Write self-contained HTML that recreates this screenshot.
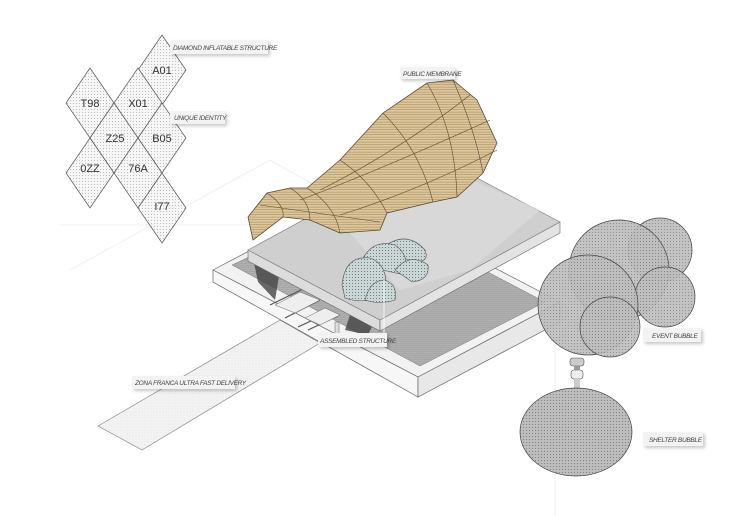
<!DOCTYPE html>
<html><head><meta charset="utf-8"><style>
html,body{margin:0;padding:0;background:#fff;}
svg{display:block;}
.lb{font-family:"Liberation Sans",sans-serif;font-size:6.5px;font-style:italic;fill:#444;letter-spacing:-0.3px;}
.dl{font-family:"Liberation Sans",sans-serif;font-size:11px;fill:#333;}
</style></head><body>
<svg width="730" height="516" viewBox="0 0 730 516" xmlns="http://www.w3.org/2000/svg">
<defs>
<pattern id="dots" width="3" height="3" patternUnits="userSpaceOnUse"><rect width="3" height="3" fill="#f6f6f6"/><circle cx="1.5" cy="1.5" r="0.5" fill="#aaa"/></pattern>
<pattern id="gdots" width="3" height="3" patternUnits="userSpaceOnUse"><rect width="3" height="3" fill="#bdbdbd"/><circle cx="1.5" cy="1.5" r="0.55" fill="#777"/></pattern>
<pattern id="bdots" width="3" height="3" patternUnits="userSpaceOnUse"><rect width="3" height="3" fill="#cbd6d6"/><circle cx="1.5" cy="1.5" r="0.55" fill="#5a6a6a"/></pattern>
<pattern id="tan" width="4" height="2.5" patternUnits="userSpaceOnUse"><rect width="4" height="2.5" fill="#dcc69c"/><rect y="1.8" width="4" height="0.7" fill="#b39868"/></pattern>
<pattern id="dstripe" width="4" height="2" patternUnits="userSpaceOnUse"><rect width="4" height="2" fill="#b0b0b0"/><rect y="1.3" width="4" height="0.7" fill="#a2a2a2"/></pattern>
<pattern id="road" width="3" height="3" patternUnits="userSpaceOnUse"><rect width="3" height="3" fill="#f3f3f3"/><circle cx="1" cy="1" r="0.4" fill="#d0d0d0"/></pattern>
<filter id="sh" x="-20%" y="-50%" width="140%" height="220%"><feDropShadow dx="2" dy="2" stdDeviation="1.5" flood-color="#000" flood-opacity="0.22"/></filter>
</defs>

<g stroke="#ececec" stroke-width="0.8" fill="none">
<polyline points="70,270 270,160 420,245"/>
<line x1="60" y1="225" x2="260" y2="225"/>
<line x1="555" y1="350" x2="555" y2="516"/>
</g>

<polygon points="98,426 280,320 320,343 142,450" fill="url(#road)" stroke="#888" stroke-width="0.7"/>

<polygon points="213,270 355,195 560,302 418,377" fill="#f2f2f2" stroke="#666" stroke-width="0.7"/>
<polygon points="213,270 418,377 418,397 213,282" fill="#f7f7f7" stroke="#666" stroke-width="0.7"/>
<polygon points="418,377 560,302 560,322 418,397" fill="#e8e8e8" stroke="#666" stroke-width="0.7"/>
<polygon points="232,265 360,205 545,302 420,366" fill="url(#dstripe)" stroke="#777" stroke-width="0.5"/>

<polygon points="253,258 280,270 275,300 258,282" fill="#444" opacity="0.8"/>
<polygon points="350,315 375,320 368,335 345,330" fill="#444" opacity="0.8"/>
<g stroke="#555" stroke-width="1.2">
<line x1="270" y1="305" x2="305" y2="288"/><line x1="285" y1="318" x2="320" y2="300"/><line x1="298" y1="327" x2="330" y2="312"/><line x1="308" y1="330" x2="338" y2="316"/>
</g>
<polygon points="275,305 300,292 320,300 295,313" fill="#eee" stroke="#666" stroke-width="0.5"/>
<polygon points="305,318 325,308 340,315 320,325" fill="#eee" stroke="#666" stroke-width="0.5"/>
<rect x="335" y="322" width="4" height="18" fill="#ddd" stroke="#666" stroke-width="0.5"/>

<polygon points="248,250 380,320 380,331 248,261" fill="#dcdcdc" stroke="#666" stroke-width="0.6"/>
<polygon points="380,320 560,222 560,233 380,331" fill="#e3e3e3" stroke="#666" stroke-width="0.6"/>
<polygon points="248,250 428,152 560,222 380,320" fill="#cfcfcf" stroke="#777" stroke-width="0.6"/>
<polygon points="330,210 450,170 540,210 470,270 400,290" fill="#dcdcdc" opacity="0.7"/>

<polygon points="253,240 248,217 267,193 290,188 307,188 340,160 383,113 427,83 453,80 477,100 497,143 483,173 457,197 433,202 387,213 380,230 340,233 310,220 283,217" fill="url(#tan)" stroke="#5a4a30" stroke-width="0.8"/>
<g stroke="#5a4a30" stroke-width="0.6" fill="none">
<path d="M267,193 Q285,205 283,217"/><path d="M290,188 Q310,200 310,220"/><path d="M307,188 Q335,205 340,233"/>
<path d="M340,160 Q370,180 387,213"/><path d="M383,113 Q420,150 433,202"/><path d="M427,83 Q455,130 457,197"/><path d="M453,80 Q475,130 483,173"/>
<path d="M300,200 Q380,170 490,120"/><path d="M320,190 Q400,150 470,95"/><path d="M340,215 Q420,190 497,150"/><path d="M260,205 Q330,215 380,222"/>
</g>

<g fill="url(#bdots)" stroke="#555" stroke-width="0.6">
<path d="M380,250 Q405,228 425,250 Q430,262 415,262 Z"/>
<path d="M360,265 Q370,238 395,245 Q410,255 405,275 Z"/>
<path d="M395,270 Q410,252 428,265 Q430,280 412,282 Z"/>
<path d="M342,285 Q345,255 370,258 Q390,265 385,295 Q365,305 345,298 Z"/>
<path d="M365,300 Q370,280 385,280 Q398,285 395,300 Q380,305 365,300 Z"/>
</g>
<line x1="384" y1="280" x2="384" y2="340" stroke="#fff" stroke-width="0.8"/>

<g fill="url(#gdots)" stroke="#444" stroke-width="0.7" fill-opacity="0.9">
<circle cx="660" cy="250" r="32"/>
<circle cx="619" cy="270" r="50"/>
<circle cx="665" cy="297" r="30"/>
<circle cx="588" cy="305" r="50"/>
<circle cx="610" cy="327" r="30"/>
</g>
<rect x="570" y="358" width="14" height="8" rx="3" fill="#ccc" stroke="#555" stroke-width="0.6"/>
<rect x="571" y="370" width="12" height="9" rx="3" fill="#eee" stroke="#555" stroke-width="0.6"/>
<rect x="574" y="366" width="6" height="4" fill="#999"/>
<rect x="574" y="379" width="6" height="9" fill="#ccc"/>
<ellipse cx="576" cy="432" rx="56" ry="44" fill="url(#gdots)" stroke="#444" stroke-width="0.7"/>

<g fill="url(#dots)" stroke="#555" stroke-width="0.7">
<polygon points="162,35 186,70 162,105 138,70"/>
<polygon points="138,68 162,103 138,138 114,103"/>
<polygon points="90,68 114,103 90,138 66,103"/>
<polygon points="114,103 138,138 114,173 90,138"/>
<polygon points="162,103 186,138 162,173 138,138"/>
<polygon points="90,138 114,173 90,208 66,173"/>
<polygon points="138,138 162,173 138,208 114,173"/>
<polygon points="162,173 186,208 162,243 138,208"/>
</g>
<g class="dl" text-anchor="middle">
<text x="162" y="74">A01</text><text x="138" y="107">X01</text><text x="90" y="107">T98</text>
<text x="115" y="142">Z25</text><text x="162" y="142">B05</text><text x="90" y="172">0ZZ</text>
<text x="138" y="172">76A</text><text x="162" y="210">I77</text>
</g>

<g filter="url(#sh)" fill="#f3f3f3">
<rect x="170" y="40" width="98" height="14"/>
<rect x="170" y="111" width="55" height="13"/>
<rect x="400" y="67" width="55" height="12"/>
<rect x="318" y="333" width="69" height="14"/>
<rect x="132" y="376" width="103" height="13"/>
<rect x="643" y="328" width="58" height="14"/>
<rect x="643" y="432" width="60" height="14"/>
</g>
<g class="lb">
<text x="173" y="50">DIAMOND INFLATABLE STRUCTURE</text>
<text x="174" y="120">UNIQUE IDENTITY</text>
<text x="403" y="76">PUBLIC MEMBRANE</text>
<text x="320" y="343">ASSEMBLED STRUCTURE</text>
<text x="135" y="385">ZONA FRANCA ULTRA FAST DELIVERY</text>
<text x="652" y="338">EVENT BUBBLE</text>
<text x="649" y="442">SHELTER BUBBLE</text>
</g>
</svg>
</body></html>
